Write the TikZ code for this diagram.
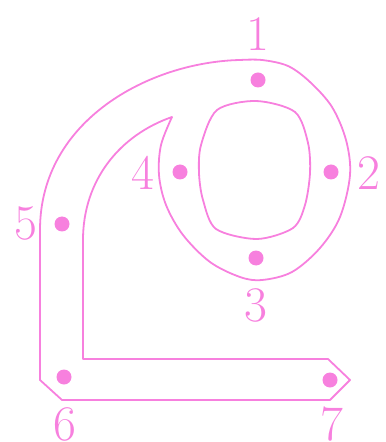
\documentclass[tikz,border=0pt]{standalone}
\usepackage{tikz}
\definecolor{rose}{RGB}{247,128,222}
\tikzset{
  outline/.style={
    draw=rose, line width=0.9pt,
    line join=round
  },
  dot/.style={
    circle, fill=rose,
    inner sep=0, outer sep=0,
    minimum size=7.5pt
  },
  num/.style={
    text=rose, font=\Huge,
    inner sep=0
  }
}

\begin{document}
\begin{tikzpicture}[x=0.5pt,y=-0.5pt]
\useasboundingbox (0,0) rectangle (385,442);

%%%%%%%%% outer channel
\draw[outline] (172,117)
   -- plot[smooth, tension=0.55] coordinates {(172,117) (161,145) (159,175) (166,205)
        (183,235) (210,262) (240,277) (262,280) (292,272) (320,248) (340,217)
        (350,175) (346,140) (332,107) (310,82) (288,66) (262,60) (240,60)}
   .. controls (150,62) and (40,120) .. (40,230)
   -- (40,380) -- (62,400) -- (330,400) -- (350,380) -- (328,359)
   -- (83,359) -- (83,240)
   .. controls (83,180) and (120,135) .. (172,117) -- cycle;

%%%%%%%%% inner hole
\draw[outline] plot[smooth cycle, tension=0.5] coordinates {(256,101) (295,112)
   (308,143) (310,173) (305,205) (293,228) (257,239) (216,229) (203,200)
   (199,173) (201,145) (217,110)};

%%%%%%%%% points and numbers
\foreach \n/\x/\y/\lx/\ly in {1/258/80/258/34, 2/331/172/369/173, 3/256/258/256/305,
                              4/180/172/143/173, 5/62/224/26/223, 6/64/377/65/424,
                              7/330/380/332/424}
{
  \node[dot] (p\n) at (\x,\y) {};
  \node[num] (n\n) at (\lx,\ly) {\n};
}

\end{tikzpicture}
\end{document}
